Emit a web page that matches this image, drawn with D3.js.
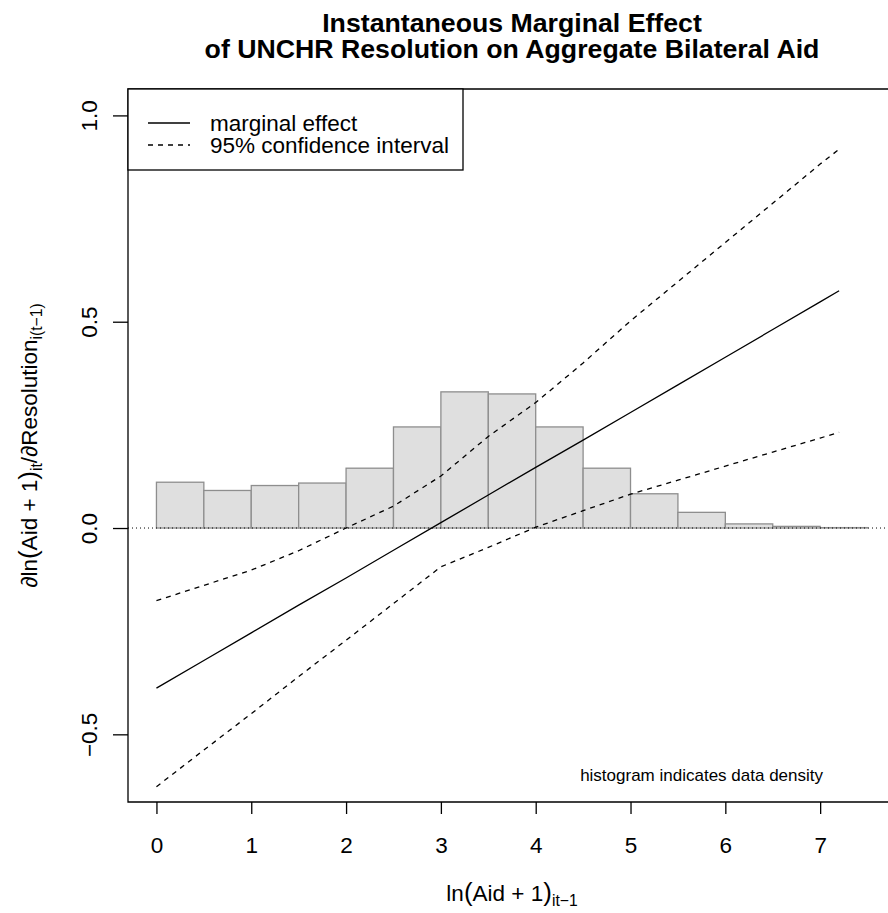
<!DOCTYPE html>
<html>
<head>
<meta charset="utf-8">
<script src="https://cdn.jsdelivr.net/npm/d3@7"></script>
<style>
  body { margin: 0; background: #fff; }
  svg text { font-family: "Liberation Sans", Arial, Helvetica, sans-serif; fill: #000; }
</style>
</head>
<body>
<div id="chart"></div>
<script>
// values
var binStarts = [0, 0.5, 1, 1.5, 2, 2.5, 3, 3.5, 4, 4.5, 5, 5.5, 6, 6.5, 7];
var binWidth = 0.5;
var density = [0.111, 0.091, 0.103, 0.109, 0.145, 0.245, 0.330, 0.325, 0.245, 0.145, 0.083, 0.038, 0.010, 0.004, 0.001];

var aidGrid = [0, 0.5, 1, 1.5, 2, 2.5, 3, 3.5, 4, 4.5, 5, 5.5, 6, 6.5, 7, 7.2];
var marginal = [-0.388, -0.321, -0.254, -0.187, -0.121, -0.054, 0.013, 0.080, 0.147, 0.213, 0.280, 0.347, 0.414, 0.481, 0.548, 0.575];
var upperCI = [-0.176, -0.139, -0.102, -0.055, 0.000, 0.053, 0.126, 0.222, 0.304, 0.400, 0.502, 0.597, 0.692, 0.787, 0.882, 0.918];
var lowerCI = [-0.627, -0.538, -0.450, -0.360, -0.272, -0.183, -0.094, -0.047, 0.002, 0.042, 0.082, 0.116, 0.150, 0.184, 0.218, 0.232];

var xTicks = [0, 1, 2, 3, 4, 5, 6, 7];
var yTicks = [-0.5, 0, 0.5, 1.0];
var legendLabels = ["marginal effect", "95% confidence interval"];
var legendDash = [null, "5,5"];

var W = 888, H = 913;
var pLeft = 128, pRight = 896, pTop = 89, pBottom = 802;
var fs = 22.5;

var svg = d3.select("#chart").append("svg")
    .attr("width", W)
    .attr("height", H);

var x = d3.scaleLinear().domain([-0.3, 7.8]).range([pLeft, pRight]);
var y = d3.scaleLinear().domain([-0.664, 1.064]).range([pBottom, pTop]);

// histogram
svg.selectAll("rect.bin")
    .data(binStarts)
    .enter().append("rect")
    .attr("class", "bin")
    .attr("x", function(d) { return x(d); })
    .attr("y", function(d, i) { return y(density[i]); })
    .attr("width", function(d) { return x(d + binWidth) - x(d); })
    .attr("height", function(d, i) { return y(0) - y(density[i]); })
    .attr("fill", "#dfdfdf")
    .attr("stroke", "#8e8e8e")
    .attr("stroke-width", 1.3);

// zero reference line
svg.append("line")
    .attr("x1", pLeft).attr("x2", pRight)
    .attr("y1", y(0)).attr("y2", y(0))
    .attr("stroke", "#000")
    .attr("stroke-width", 1)
    .attr("stroke-dasharray", "1,3");

var line = d3.line()
    .x(function(d) { return x(d[0]); })
    .y(function(d) { return y(d[1]); });

function pairs(vals) {
    return aidGrid.map(function(g, i) { return [g, vals[i]]; });
}

svg.append("path").datum(pairs(marginal))
    .attr("d", line).attr("fill", "none")
    .attr("stroke", "#000").attr("stroke-width", 1.3);

[upperCI, lowerCI].forEach(function(ci) {
    svg.append("path").datum(pairs(ci))
        .attr("d", line).attr("fill", "none")
        .attr("stroke", "#000").attr("stroke-width", 1.3)
        .attr("stroke-dasharray", "5,5");
});

// box (right side falls outside the picture)
svg.append("path")
    .attr("d", "M" + pRight + "," + pTop + "H" + pLeft + "V" + pBottom + "H" + pRight)
    .attr("fill", "none")
    .attr("stroke", "#000")
    .attr("stroke-width", 1.3);

// axes
var xAxis = svg.append("g")
    .attr("transform", "translate(0," + pBottom + ")")
    .call(d3.axisBottom(x).tickValues(xTicks).tickSize(12).tickSizeOuter(0).tickFormat(d3.format("d")));
xAxis.select(".domain").remove();
xAxis.selectAll(".tick line").attr("stroke-width", 1.3);
xAxis.selectAll(".tick text")
    .attr("font-size", fs)
    .attr("y", 51).attr("dy", null);

var yAxis = svg.append("g")
    .attr("transform", "translate(" + pLeft + ",0)")
    .call(d3.axisLeft(y).tickValues(yTicks).tickSize(15).tickSizeOuter(0).tickFormat(d3.format(".1f")));
yAxis.select(".domain").remove();
yAxis.selectAll(".tick line").attr("stroke-width", 1.3);
yAxis.selectAll(".tick text")
    .attr("font-size", fs)
    .attr("x", 0).attr("dy", null)
    .attr("text-anchor", "middle")
    .attr("transform", "translate(-31,0) rotate(-90)");

// title
var title = svg.append("g").attr("transform", "translate(" + ((pLeft + pRight) / 2) + ",0)");
["Instantaneous Marginal Effect", "of UNCHR Resolution on Aggregate Bilateral Aid"].forEach(function(t, i) {
    title.append("text")
        .attr("x", 0)
        .attr("y", 32 + i * 26)
        .attr("text-anchor", "middle")
        .attr("font-size", 26.7)
        .attr("font-weight", "bold")
        .text(t);
});

// axis titles
var xt = svg.append("text")
    .attr("x", (pLeft + pRight) / 2)
    .attr("y", 901)
    .attr("text-anchor", "middle")
    .attr("font-size", fs);
xt.append("tspan").text("ln");
xt.append("tspan").attr("font-size", 26).text("(");
xt.append("tspan").text("Aid + 1");
xt.append("tspan").attr("font-size", 26).text(")");
xt.append("tspan").attr("font-size", 15.7).attr("dy", 5).text("it\u22121");

var yt = svg.append("text")
    .attr("transform", "translate(37," + ((pTop + pBottom) / 2) + ") rotate(-90)")
    .attr("text-anchor", "middle")
    .attr("font-size", fs);
yt.append("tspan").text("\u2202ln");
yt.append("tspan").attr("font-size", 26).text("(");
yt.append("tspan").text("Aid + 1");
yt.append("tspan").attr("font-size", 26).text(")");
yt.append("tspan").attr("font-size", 15.7).attr("dy", 5).text("it");
yt.append("tspan").attr("dy", -5).text("/\u2202Resolution");
yt.append("tspan").attr("font-size", 15.7).attr("dy", 5).text("i(t\u22121)");

// legend
var legend = svg.append("g");
legend.append("rect")
    .attr("x", pLeft).attr("y", pTop)
    .attr("width", 335).attr("height", 81)
    .attr("fill", "#fff")
    .attr("stroke", "#000")
    .attr("stroke-width", 1.3);
legendLabels.forEach(function(lab, i) {
    var ly = 123 + i * 22;
    legend.append("line")
        .attr("x1", 148).attr("x2", 190)
        .attr("y1", ly).attr("y2", ly)
        .attr("stroke", "#000").attr("stroke-width", 1.3)
        .attr("stroke-dasharray", legendDash[i]);
    legend.append("text")
        .attr("x", 210)
        .attr("y", ly + 8)
        .attr("font-size", fs)
        .text(lab);
});

// note
svg.append("text")
    .attr("x", 823)
    .attr("y", 781)
    .attr("text-anchor", "end")
    .attr("font-size", 17)
    .text("histogram indicates data density");
</script>
</body>
</html>
